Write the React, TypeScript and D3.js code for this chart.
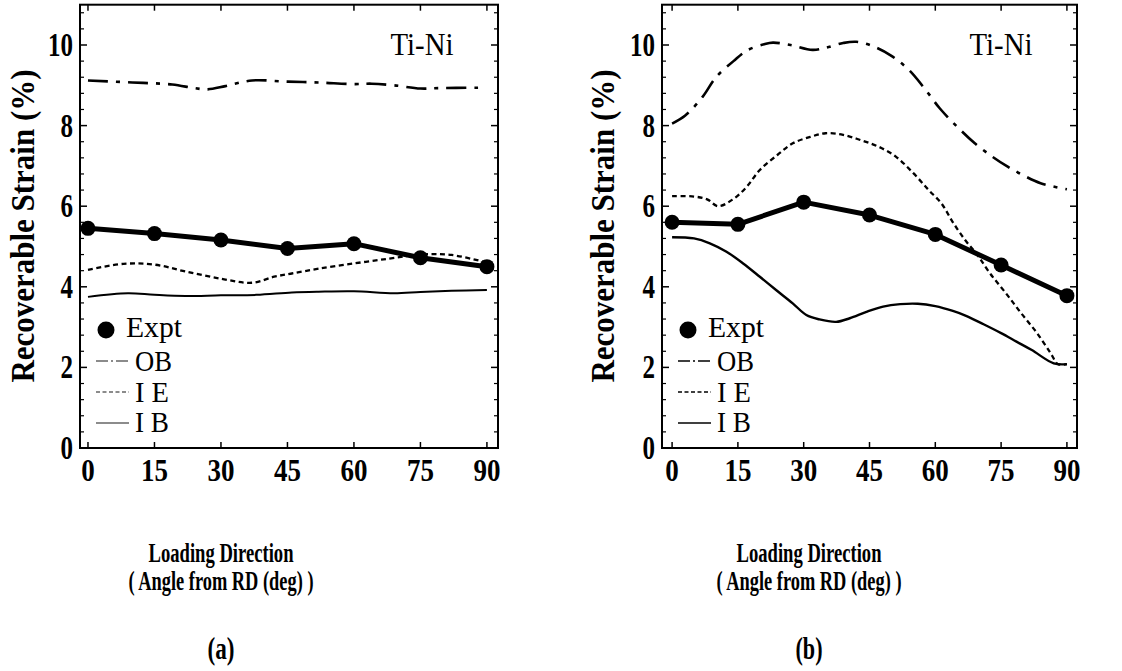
import React from 'react';
import * as d3 from 'd3';

type Pt = [number, number];

// measured angles and tick labels
const ANGLES = [0, 15, 30, 45, 60, 75, 90];
const Y_TICKS = [0, 2, 4, 6, 8, 10];

// panel (a)
const exptA = [5.45, 5.32, 5.16, 4.95, 5.07, 4.72, 4.5];
const obA: Pt[] = [
  [0, 9.12], [10, 9.07], [19, 9.02], [24, 8.93], [27, 8.9], [31, 8.98], [37, 9.12],
  [45, 9.09], [52, 9.07], [60, 9.03], [64, 9.04], [69, 9.0], [75, 8.92], [79, 8.93], [88, 8.94],
];
const ieA: Pt[] = [
  [0, 4.42], [8, 4.57], [15, 4.55], [22, 4.38], [30, 4.2], [37, 4.1], [42, 4.25], [46, 4.33],
  [52, 4.45], [60, 4.58], [68, 4.7], [75, 4.8], [82, 4.79], [90, 4.6],
];
const ibA: Pt[] = [
  [0, 3.75], [9, 3.84], [15, 3.8], [22, 3.77], [30, 3.79], [38, 3.8], [46, 3.86], [52, 3.88],
  [60, 3.89], [69, 3.84], [75, 3.87], [82, 3.9], [90, 3.92],
];

// panel (b)
const exptB = [5.6, 5.55, 6.1, 5.78, 5.3, 4.54, 3.78];
const obB: Pt[] = [
  [0, 8.05], [3, 8.25], [7, 8.72], [10, 9.2], [14, 9.6], [17, 9.86], [21, 10.02], [23, 10.06],
  [27, 10.0], [32, 9.88], [35, 9.93], [39, 10.05], [42, 10.08], [46, 9.96], [50, 9.73],
  [54, 9.38], [57.5, 8.93], [61, 8.43], [65, 7.97], [69, 7.56], [73, 7.23], [76.5, 6.98],
  [80, 6.77], [84, 6.57], [90, 6.42],
];
const ieB: Pt[] = [
  [0, 6.25], [5, 6.24], [8, 6.17], [10.5, 6.0], [14, 6.18], [17, 6.48], [20, 6.9], [24, 7.27],
  [27.5, 7.56], [31.5, 7.72], [35, 7.81], [39, 7.77], [43, 7.64], [47, 7.48], [51, 7.23],
  [55, 6.82], [58.5, 6.4], [61.4, 6.07], [63.9, 5.62], [66.8, 5.16], [69.6, 4.79], [72.5, 4.33],
  [76.1, 3.84], [79.6, 3.34], [83.2, 2.85], [86.3, 2.35], [88, 2.08], [90, 2.08],
];
const ibB: Pt[] = [
  [0, 5.23], [5, 5.2], [8.6, 5.08], [12.4, 4.87], [16.2, 4.58], [20, 4.25], [23.7, 3.92],
  [27.5, 3.59], [30.6, 3.3], [33.6, 3.19], [37.4, 3.13], [40.5, 3.22], [44.3, 3.38],
  [48.1, 3.51], [52, 3.57], [56, 3.58], [60, 3.52], [64, 3.4], [67, 3.28], [71, 3.07],
  [75, 2.85], [78.5, 2.64], [82, 2.43], [87, 2.1], [90, 2.08],
];

const LEGEND = ['OB', 'I E', 'I B'];

const SERIF = '"Liberation Serif", "Times New Roman", serif';

interface PanelProps {
  left: number;
  right: number;
  xDomain: [number, number];
  expt: number[];
  ob: Pt[];
  ie: Pt[];
  ib: Pt[];
  legendColor: string;
  ibWidth: number;
}

function Panel({ left, right, xDomain, expt, ob, ie, ib, legendColor, ibWidth }: PanelProps) {
  const top = 4.7;
  const bottom = 448;
  const x = d3.scaleLinear().domain(xDomain).range([left, right]);
  const y = d3.scaleLinear().domain([0, 11]).range([bottom, top]);

  const smooth = d3.line<Pt>().x(d => x(d[0])).y(d => y(d[1])).curve(d3.curveCatmullRom.alpha(0.5));
  const straight = d3.line<number>().x((_, i) => x(ANGLES[i])).y(d => y(d));

  const minor = d3.range(1, 28).filter(i => i % 5 !== 0).map(i => i * 0.4);
  const legendDash = ['12 3 2 3', '4 2.5', 'none'];
  const legendLineY = [361, 392, 423];
  const legendTextY = [371, 402, 432];
  const legendW = [37, 34, 34];

  const lx = left;
  return (
    <g>
      <rect x={left} y={top} width={right - left} height={bottom - top} fill="none" stroke="#000" strokeWidth={2} />
      {Y_TICKS.map(t => (
        <g key={'y' + t}>
          <line x1={left} x2={left + 7} y1={y(t)} y2={y(t)} stroke="#000" strokeWidth={1.5} />
          <line x1={right} x2={right - 7} y1={y(t)} y2={y(t)} stroke="#000" strokeWidth={1.5} />
          <text x={left - 7} y={y(t) + 11} textAnchor="end" fontFamily={SERIF} fontWeight="bold" fontSize={34}
            textLength={String(t).length * 12.5} lengthAdjust="spacingAndGlyphs">{t}</text>
        </g>
      ))}
      {minor.map(t => (
        <g key={'m' + t}>
          <line x1={left} x2={left + 4} y1={y(t)} y2={y(t)} stroke="#000" strokeWidth={1.2} />
          <line x1={right} x2={right - 4} y1={y(t)} y2={y(t)} stroke="#000" strokeWidth={1.2} />
        </g>
      ))}
      {ANGLES.map(a => (
        <g key={'x' + a}>
          <line x1={x(a)} x2={x(a)} y1={bottom} y2={bottom - 6} stroke="#000" strokeWidth={1.5} />
          <line x1={x(a)} x2={x(a)} y1={top} y2={top + 6} stroke="#000" strokeWidth={1.5} />
          <text x={x(a)} y={481} textAnchor="middle" fontFamily={SERIF} fontWeight="bold" fontSize={32}
            textLength={String(a).length * 13.5} lengthAdjust="spacingAndGlyphs">{a}</text>
        </g>
      ))}

      {/* model curves */}
      <path d={smooth(ob) ?? ''} fill="none" stroke="#000" strokeWidth={2.6} strokeDasharray="20 8 4 8" />
      <path d={smooth(ie) ?? ''} fill="none" stroke="#000" strokeWidth={2.3} strokeDasharray="5 3.5" />
      <path d={smooth(ib) ?? ''} fill="none" stroke="#000" strokeWidth={ibWidth} />

      {/* experiment */}
      <path d={straight(expt) ?? ''} fill="none" stroke="#000" strokeWidth={5} strokeLinejoin="round" />
      {expt.map((v, i) => (
        <circle key={'e' + i} cx={x(ANGLES[i])} cy={y(v)} r={7.5} fill="#000" />
      ))}

      <text x={right - 76} y={55} textAnchor="middle" fontFamily={SERIF} fontSize={32}
        textLength={63} lengthAdjust="spacingAndGlyphs">Ti-Ni</text>

      {/* legend */}
      <circle cx={lx + 26} cy={330} r={8.5} fill="#000" />
      <text x={lx + 46} y={337} fontFamily={SERIF} fontSize={29}
        textLength={56} lengthAdjust="spacingAndGlyphs">Expt</text>
      {LEGEND.map((name, i) => (
        <g key={name}>
          <line x1={lx + 16} x2={lx + 49} y1={legendLineY[i]} y2={legendLineY[i]} stroke={legendColor}
            strokeWidth={1.6} strokeDasharray={legendDash[i]} />
          <text x={lx + 55} y={legendTextY[i]} fontFamily={SERIF} fontSize={29}
            textLength={legendW[i]} lengthAdjust="spacingAndGlyphs">{name}</text>
        </g>
      ))}
    </g>
  );
}

function AxisLabels({ cx, yLabelX, tag }: { cx: number; yLabelX: number; tag: string }) {
  return (
    <g fontFamily={SERIF} fill="#000">
      <text transform={`translate(${yLabelX},226) rotate(-90)`} textAnchor="middle" fontWeight="bold" fontSize={34}
        textLength={313} lengthAdjust="spacingAndGlyphs">Recoverable Strain (%)</text>
      <text x={cx} y={562} textAnchor="middle" fontWeight="bold" fontSize={28}
        textLength={145} lengthAdjust="spacingAndGlyphs">Loading Direction</text>
      <text x={cx} y={590} textAnchor="middle" fontWeight="bold" fontSize={28}
        textLength={185} lengthAdjust="spacingAndGlyphs">( Angle from RD (deg) )</text>
      <text x={cx} y={659} textAnchor="middle" fontWeight="bold" fontSize={31}
        textLength={27} lengthAdjust="spacingAndGlyphs">{tag}</text>
    </g>
  );
}

export default function App() {
  return (
    <div style={{ position: 'fixed', left: 0, top: 0, background: '#fff' }}>
      <svg width={1122} height={671} style={{ display: 'block' }}>
        <rect width={1122} height={671} fill="#fff" />
        <Panel left={80} right={498} xDomain={[-1.8, 92.5]} expt={exptA} ob={obA} ie={ieA} ib={ibA}
          legendColor="#666" ibWidth={2} />
        <Panel left={662} right={1077} xDomain={[-2.3, 92.3]} expt={exptB} ob={obB} ie={ieB} ib={ibB}
          legendColor="#000" ibWidth={2.4} />
        <AxisLabels cx={221} yLabelX={34} tag="(a)" />
        <AxisLabels cx={809} yLabelX={614} tag="(b)" />
      </svg>
    </div>
  );
}
